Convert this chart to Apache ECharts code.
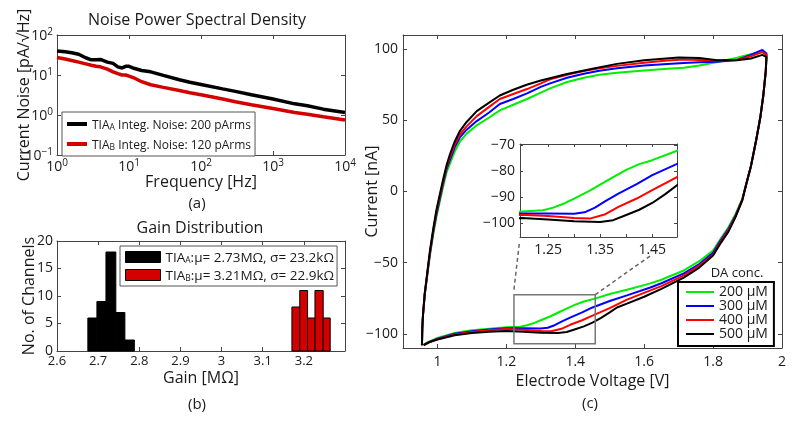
<!DOCTYPE html>
<html><head><meta charset="utf-8">
<script src="https://cdn.jsdelivr.net/npm/echarts@6/dist/echarts.min.js"></script>
<style>html,body{margin:0;padding:0;background:#fff}#c{width:800px;height:421px}</style>
</head><body><div id="c"></div>
<script>
// ---------- (a) Noise power spectral density ----------
const noiseFreq = [1,1.3,1.6,2,2.5,3,3.5,4,5,6,7,8,9,10,12,15,20,30,50,70,100,200,300,500,1000,2000,3000,5000,10000];
const noiseA = [40,38,36,33,27,24,24,24.5,21,19.5,16,15,16.5,16.5,14.5,13,12,9.8,7.6,6.6,5.8,4.5,3.9,3.2,2.5,1.9,1.7,1.4,1.15];
const noiseB = [27.5,25,23,21,19,17.5,16.5,16,14,12,10.8,10,10,9.4,8.3,6.8,5.7,4.9,4.1,3.6,3.2,2.5,2.15,1.8,1.45,1.15,1.05,0.9,0.75];
const noiseLegend = ['TIA_A Integ. Noise: 200 pArms', 'TIA_B Integ. Noise: 120 pArms'];

// ---------- (b) Gain distribution ----------
const gainEdgesA = [2.675, 2.697, 2.719, 2.743, 2.765, 2.788];
const gainCountsA = [6, 9, 18, 7, 2];
const gainEdgesB = [3.171, 3.190, 3.209, 3.227, 3.247, 3.264];
const gainCountsB = [8, 11, 6, 11, 6];
const gainTicks = [2.6, 2.7, 2.8, 2.9, 3, 3.1, 3.2];

// ---------- (c) Cyclic voltammograms [V, nA] ----------
const cv200 = [[0.955,-108],[0.956,-96],[0.958,-87],[0.963,-73],[0.97,-60],[0.978,-45],[0.988,-30],[0.997,-18],[1.006,-8],[1.016,3],[1.026,13],[1.036,19.5],[1.05,28],[1.065,35],[1.084,40.5],[1.114,46.5],[1.15,52],[1.181,57],[1.22,61],[1.26,65],[1.3,69.5],[1.327,72.5],[1.376,77],[1.425,80],[1.47,82],[1.521,83.5],[1.6,85],[1.667,86.3],[1.715,87],[1.76,88.5],[1.812,91],[1.87,94],[1.909,96.5],[1.943,98.5],[1.955,96],
  [1.953,85],[1.946,68],[1.937,52],[1.925,36],[1.91,18],[1.895,4],[1.885,-5],[1.865,-16],[1.845,-25],[1.82,-34],[1.8,-41.5],[1.76,-49],[1.715,-55.5],[1.65,-62],[1.618,-64.6],[1.55,-69],[1.5,-72],[1.45,-75.8],[1.425,-77.3],[1.4,-79.5],[1.375,-82.3],[1.354,-84.7],[1.33,-87.5],[1.3,-90.5],[1.283,-92.2],[1.26,-94],[1.24,-95],[1.2,-95.5],[1.15,-96.5],[1.1,-97.5],[1.05,-99.5],[1.0,-103],[0.975,-105.5],[0.96,-107.5]];
const cv300 = [[0.955,-108],[0.956,-96],[0.958,-87],[0.963,-72.5],[0.97,-59],[0.978,-44],[0.988,-28],[0.997,-16],[1.006,-6],[1.016,5],[1.026,15.5],[1.036,22],[1.05,31],[1.065,38],[1.084,43.3],[1.114,49.5],[1.15,55.5],[1.181,61.5],[1.22,65],[1.26,69],[1.3,73.5],[1.327,76],[1.376,80],[1.425,82.8],[1.47,84.8],[1.521,86.6],[1.6,88.5],[1.667,89.6],[1.715,90.4],[1.76,90.8],[1.812,91.2],[1.87,92.5],[1.909,96],[1.943,99.5],[1.955,97],
  [1.953,85],[1.946,68],[1.937,52],[1.925,36],[1.91,18],[1.895,4],[1.885,-5.5],[1.865,-17],[1.845,-26],[1.82,-35],[1.8,-43],[1.76,-51],[1.715,-57.5],[1.65,-64.5],[1.618,-67.5],[1.55,-73],[1.5,-77],[1.45,-81.5],[1.42,-85],[1.385,-88.6],[1.36,-91.5],[1.34,-94],[1.32,-95.8],[1.3,-96.3],[1.25,-96.2],[1.2,-96.2],[1.15,-97],[1.1,-98.2],[1.05,-100],[1.0,-103.5],[0.975,-106],[0.96,-108]];
const cv400 = [[0.955,-108],[0.956,-96],[0.958,-87],[0.963,-72],[0.97,-58.5],[0.978,-43],[0.988,-27],[0.997,-14.5],[1.006,-4.5],[1.016,6.5],[1.026,17],[1.036,24],[1.05,33],[1.065,40],[1.084,45.6],[1.114,53],[1.15,59.5],[1.181,65],[1.22,68.5],[1.26,72],[1.3,76],[1.327,78.8],[1.376,82],[1.425,84.7],[1.47,86.6],[1.521,88.3],[1.6,90.5],[1.667,92],[1.715,92.7],[1.76,92.5],[1.812,92],[1.87,92.5],[1.909,95],[1.943,98],[1.955,96],
  [1.953,85],[1.946,68],[1.937,52],[1.925,36],[1.91,18],[1.895,4],[1.885,-5.8],[1.865,-17.5],[1.845,-27],[1.82,-36],[1.8,-44.5],[1.76,-52],[1.715,-59],[1.65,-66.5],[1.618,-69.5],[1.55,-76],[1.5,-82],[1.45,-87.3],[1.42,-90.5],[1.385,-93.7],[1.36,-96.5],[1.33,-98.2],[1.3,-98],[1.25,-97.2],[1.2,-96.7],[1.15,-97.5],[1.1,-98.8],[1.05,-100.5],[1.0,-103.8],[0.975,-106],[0.96,-108]];
const cv500 = [[0.955,-108],[0.956,-96],[0.958,-87],[0.963,-72],[0.97,-58],[0.978,-42],[0.988,-26],[0.997,-13],[1.006,-3],[1.016,8],[1.026,18],[1.036,26],[1.05,35],[1.065,42.5],[1.084,48.7],[1.114,56.5],[1.15,62.5],[1.181,67.5],[1.22,71.5],[1.259,75],[1.3,78],[1.376,82.6],[1.45,86.3],[1.521,89.7],[1.6,92.3],[1.7,94.2],[1.76,93.8],[1.812,92.3],[1.87,92.3],[1.91,93.5],[1.943,96],[1.955,94.5],
  [1.953,85],[1.946,68],[1.937,52],[1.925,36],[1.91,18],[1.895,4],[1.885,-6],[1.865,-18],[1.845,-28],[1.82,-37],[1.8,-45],[1.76,-53.5],[1.715,-60.5],[1.65,-68.5],[1.6,-74],[1.55,-78.8],[1.521,-81.5],[1.5,-85],[1.475,-88.8],[1.45,-92.2],[1.425,-94.8],[1.4,-96.8],[1.375,-98.8],[1.35,-99.5],[1.3,-99.2],[1.25,-98.5],[1.2,-98],[1.15,-98.5],[1.1,-99.5],[1.05,-101],[1.0,-104],[0.975,-106],[0.96,-108]];
const cvNames = ['200 \u03BCM', '300 \u03BCM', '400 \u03BCM', '500 \u03BCM'];
const cvColors = ['#00ee00', '#0000ff', '#ff0000', '#000000'];
const cvTicksV = [1, 1.2, 1.4, 1.6, 1.8, 2];
const cvTicksI = [-100, -50, 0, 50, 100];
const insetTicksV = [1.25, 1.3, 1.35, 1.4, 1.45];
const insetLabelsV = [1.25, 1.35, 1.45];
const insetTicksI = [-100, -90, -80, -70];
const zoomBoxV = [1.222, 1.458];
const zoomBoxI = [-107, -72.5];
const insetV = [1.196, 1.4975];
const insetI = [-105.25, -69.6];

const FONT = '"Open Sans", "Noto Sans", sans-serif';
const AX = '#444', TX = '#1a1a1a';
const minus = v => String(v).replace('-', '\u2212');

function baseAxis(o) {
  const a = {
    axisLine: { show: true, onZero: false, lineStyle: { color: AX, width: 1 } },
    axisTick: { show: true, inside: true, length: 4, lineStyle: { color: AX, width: 1 } },
    splitLine: { show: false },
    axisLabel: { color: TX, fontFamily: FONT, fontSize: 13, formatter: minus },
    nameLocation: 'middle',
    nameMoveOverlap: false,
    nameTextStyle: { color: TX, fontFamily: FONT, fontSize: 16 }
  };
  for (const k in o) {
    if (typeof o[k] === 'object' && !Array.isArray(o[k]) && a[k]) a[k] = Object.assign({}, a[k], o[k]);
    else a[k] = o[k];
  }
  return a;
}
function hidden(o) {
  return baseAxis(Object.assign({ axisLabel: { show: false } }, o));
}
const logRich = {
  b: { fontFamily: FONT, fontSize: 14, color: TX, lineHeight: 16, padding: [2, 0, 0, 0], verticalAlign: 'bottom' },
  s: { fontFamily: FONT, fontSize: 10, color: TX, lineHeight: 10, verticalAlign: 'top' }
};
const logFmt = v => '{b|10}{s|' + minus(Math.round(Math.log10(v))) + '}';

const xAxis = [
  baseAxis({ gridIndex: 0, type: 'log', logBase: 10, min: 1, max: 10000, position: 'bottom',
    name: 'Frequency [Hz]', nameGap: 19, axisLabel: { formatter: logFmt, rich: logRich, margin: 3 } }),
  hidden({ gridIndex: 0, type: 'log', logBase: 10, min: 1, max: 10000, position: 'top' }),
  baseAxis({ gridIndex: 1, type: 'value', min: 2.6, max: 3.3, position: 'bottom', name: 'Gain [M\u03A9]', nameGap: 19,
    axisTick: { customValues: gainTicks }, axisLabel: { customValues: gainTicks, margin: 4 } }),
  hidden({ gridIndex: 1, type: 'value', min: 2.6, max: 3.3, position: 'top', axisTick: { customValues: gainTicks } }),
  baseAxis({ gridIndex: 2, type: 'value', min: 0.9, max: 2, position: 'bottom', name: 'Electrode Voltage [V]', nameGap: 25,
    axisTick: { customValues: cvTicksV }, axisLabel: { customValues: cvTicksV, margin: 7, fontSize: 14 } }),
  hidden({ gridIndex: 2, type: 'value', min: 0.9, max: 2, position: 'top', axisTick: { customValues: cvTicksV } }),
  baseAxis({ gridIndex: 3, type: 'value', min: insetV[0], max: insetV[1], position: 'bottom',
    axisTick: { customValues: insetTicksV, length: 3 }, axisLabel: { customValues: insetLabelsV, margin: 6, fontSize: 14 } }),
  hidden({ gridIndex: 3, type: 'value', min: insetV[0], max: insetV[1], position: 'top', axisTick: { customValues: insetTicksV, length: 3 } })
];
const yAxis = [
  baseAxis({ gridIndex: 0, type: 'log', logBase: 10, min: 0.1, max: 100, position: 'left',
    name: 'Current Noise [pA/\u221AHz]', nameGap: 25, axisLabel: { formatter: logFmt, rich: logRich, margin: 4 } }),
  hidden({ gridIndex: 0, type: 'log', logBase: 10, min: 0.1, max: 100, position: 'right' }),
  baseAxis({ gridIndex: 1, type: 'value', min: 0, max: 20, interval: 5, position: 'left', name: 'No. of Channels', nameGap: 20,
    axisLabel: { margin: 4, fontSize: 14 } }),
  hidden({ gridIndex: 1, type: 'value', min: 0, max: 20, interval: 5, position: 'right' }),
  baseAxis({ gridIndex: 2, type: 'value', min: -110, max: 110, position: 'left', name: 'Current [nA]', nameGap: 23,
    axisTick: { customValues: cvTicksI }, axisLabel: { customValues: cvTicksI, margin: 5, fontSize: 14 } }),
  hidden({ gridIndex: 2, type: 'value', min: -110, max: 110, position: 'right', axisTick: { customValues: cvTicksI } }),
  baseAxis({ gridIndex: 3, type: 'value', min: insetI[0], max: insetI[1], position: 'left',
    axisTick: { customValues: insetTicksI, length: 3 }, axisLabel: { customValues: insetTicksI, margin: 5, fontSize: 14 } }),
  hidden({ gridIndex: 3, type: 'value', min: insetI[0], max: insetI[1], position: 'right', axisTick: { customValues: insetTicksI, length: 3 } })
];

function lineSeries(name, data, color, width, ax) {
  return { type: 'line', name, data, xAxisIndex: ax, yAxisIndex: ax, showSymbol: false, symbol: 'none',
    smooth: false, clip: true, color, itemStyle: { color }, lineStyle: { color, width }, emphasis: { disabled: true }, silent: true };
}
function histSeries(name, edges, counts, color) {
  const data = counts.map((c, i) => [edges[i], edges[i + 1], c]);
  return { type: 'custom', name, xAxisIndex: 2, yAxisIndex: 2, data, encode: { x: [0, 1], y: 2 },
    color, itemStyle: { color }, silent: true,
    renderItem(params, api) {
      const a = api.coord([api.value(0), api.value(2)]);
      const b = api.coord([api.value(1), 0]);
      return { type: 'rect', shape: { x: a[0], y: a[1], width: b[0] - a[0], height: b[1] - a[1] },
        style: { fill: color, stroke: '#000', lineWidth: 1 } };
    } };
}

const series = [
  lineSeries(noiseLegend[0], noiseFreq.map((f, i) => [f, noiseA[i]]), '#000000', 3.5, 0),
  lineSeries(noiseLegend[1], noiseFreq.map((f, i) => [f, noiseB[i]]), '#d40000', 3.5, 0),
  histSeries('GA', gainEdgesA, gainCountsA, '#000000'),
  histSeries('GB', gainEdgesB, gainCountsB, '#d40000')
];
const cvData = [cv200, cv300, cv400, cv500];
cvData.forEach((d, k) => series.push(lineSeries(cvNames[k], d, cvColors[k], 2, 4)));
cvData.forEach((d, k) => series.push(lineSeries(cvNames[k], d, cvColors[k], 2, 6)));

function subRich(size) {
  return {
    n: { fontFamily: FONT, fontSize: size, color: TX, lineHeight: 16, verticalAlign: 'bottom' },
    s: { fontFamily: FONT, fontSize: 8.5, color: TX, lineHeight: 3, verticalAlign: 'bottom' }
  };
}
const gainLegendText = {
  GA: '{n|TIA}{s|A}{n|:\u03BC= 2.73M\u03A9, \u03C3= 23.2k\u03A9}',
  GB: '{n|TIA}{s|B}{n|:\u03BC= 3.21M\u03A9, \u03C3= 22.9k\u03A9}'
};

const option = {
  animation: false,
  backgroundColor: '#fff',
  grid: [
    { left: 57, top: 35, width: 288, height: 120, containLabel: false, outerBoundsMode: 'none' },
    { left: 57, top: 241, width: 288, height: 110, containLabel: false, outerBoundsMode: 'none' },
    { left: 403, top: 35, width: 379, height: 313, containLabel: false, outerBoundsMode: 'none' },
    { left: 520, top: 144, width: 157, height: 93, containLabel: false, outerBoundsMode: 'none', show: true, backgroundColor: '#fff', borderWidth: 0 }
  ],
  xAxis, yAxis, series,
  legend: [
    { data: noiseLegend, left: 62, top: 112, orient: 'vertical', icon: 'rect', itemWidth: 20, itemHeight: 4, itemGap: 4,
      padding: [4, 4, 4, 5], borderColor: '#555', borderWidth: 1, backgroundColor: '#fff', selectedMode: false,
      itemStyle: { borderWidth: 0 },
      formatter: n => n === noiseLegend[0] ? '{n|TIA}{s|A}{n| Integ. Noise: 200 pArms}' : '{n|TIA}{s|B}{n| Integ. Noise: 120 pArms}',
      textStyle: { rich: subRich(12), lineHeight: 14 } },
    { data: ['GA', 'GB'], left: 120, top: 246, orient: 'vertical', icon: 'rect', itemWidth: 35, itemHeight: 11, itemGap: 2,
      padding: [3, 3, 3, 5], borderColor: '#555', borderWidth: 1, backgroundColor: '#fff', selectedMode: false,
      itemStyle: { borderColor: '#000', borderWidth: 1 },
      formatter: n => gainLegendText[n], textStyle: { rich: subRich(13.5), lineHeight: 14 } },
    { data: cvNames, left: 678, top: 282, orient: 'vertical', icon: 'rect', itemWidth: 28, itemHeight: 2, itemGap: 0,
      padding: [3, 6, 5, 8], borderColor: '#000', borderWidth: 2, backgroundColor: '#fff', selectedMode: false,
      itemStyle: { borderWidth: 0 },
      textStyle: { fontFamily: FONT, fontSize: 14, color: TX, lineHeight: 12 } }
  ]
};
series.slice(8).forEach(s => { s.xAxisIndex = 6; s.yAxisIndex = 6; });
series.slice(4, 8).forEach(s => { s.xAxisIndex = 4; s.yAxisIndex = 4; });

const chart = echarts.init(document.getElementById('c'), null, { renderer: 'canvas', width: 800, height: 421 });
chart.setOption(option);

function txt(text, x, y, size, extra) {
  return Object.assign({ type: 'text', x, y, z: 50, style: { text, fill: TX, font: size + 'px ' + FONT, textAlign: 'center', textVerticalAlign: 'middle' } }, extra || {});
}
const p = (si, v) => chart.convertToPixel({ seriesIndex: si }, v);
const boxTL = p(7, [zoomBoxV[0], zoomBoxI[1]]);
const boxBR = p(7, [zoomBoxV[1], zoomBoxI[0]]);
const boxTR = [boxBR[0], boxTL[1]];
const inBL = p(11, [insetV[0], insetI[0]]);
const inBR = p(11, [insetV[1], insetI[0]]);
const lerp = (a, b, t) => [a[0] + (b[0] - a[0]) * t, a[1] + (b[1] - a[1]) * t];
const leftEnd = lerp(boxTL, inBL, 0.93);
const rightEnd = lerp(boxTR, inBR, 0.68);
const dash = { stroke: '#666', lineWidth: 1.5, lineDash: [4, 3] };

chart.setOption({
  graphic: [
    txt('Noise Power Spectral Density', 197, 20, 16),
    txt('(a)', 197, 204, 15),
    txt('Gain Distribution', 200, 228, 16),
    txt('(b)', 197, 405, 15),
    txt('(c)', 590, 404, 15),
    txt('DA conc.', 737, 273, 13),
    { type: 'rect', z: 40, shape: { x: boxTL[0], y: boxTL[1], width: boxBR[0] - boxTL[0], height: boxBR[1] - boxTL[1] },
      style: { fill: 'none', stroke: '#777', lineWidth: 1.5 } },
    { type: 'line', z: 40, shape: { x1: boxTL[0], y1: boxTL[1] - 5, x2: leftEnd[0], y2: leftEnd[1] }, style: dash },
    { type: 'line', z: 40, shape: { x1: boxTR[0], y1: boxTR[1], x2: rightEnd[0], y2: rightEnd[1] }, style: dash }
  ]
});
</script>
</body></html>
